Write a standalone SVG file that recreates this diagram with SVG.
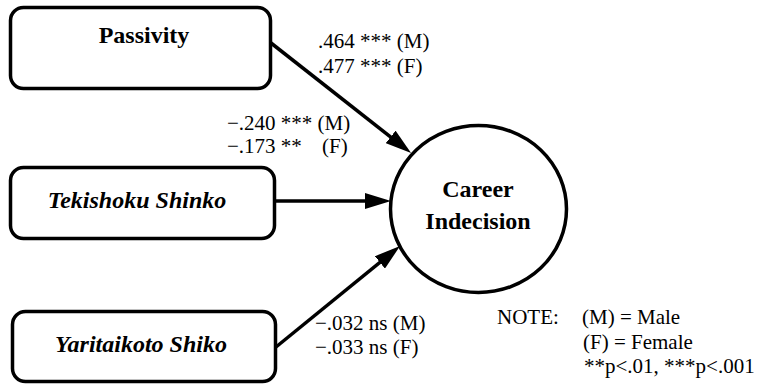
<svg xmlns="http://www.w3.org/2000/svg" width="759" height="385" viewBox="0 0 759 385">
<style>
.box{fill:#fff;stroke:#000;stroke-width:3.5}
.node{font-family:"Liberation Serif","Times New Roman",serif;font-weight:bold;font-size:24px;text-anchor:middle;fill:#000}
.it{font-style:italic}
.lbl{font-family:"Liberation Serif","Times New Roman",serif;font-size:21px;fill:#000}
.edge{stroke:#000;stroke-width:3.5;fill:none;marker-end:url(#ah)}
</style>
<defs>
<marker id="ah" viewBox="0 0 26 16" refX="16" refY="8" markerWidth="26" markerHeight="16" markerUnits="userSpaceOnUse" orient="auto">
<path d="M0,0 L26,8 L0,16 z" fill="#000"/>
</marker>
</defs>
<rect width="759" height="385" fill="#fff"/>
<g id="connectors">
<line class="edge" x1="271" y1="43" x2="403.2" y2="146.8"/>
<line class="edge" x1="275" y1="201" x2="381" y2="201"/>
<line class="edge" x1="276" y1="347" x2="392.3" y2="252.3"/>
</g>
<g id="passivity">
<rect class="box" x="10.5" y="7.5" width="260" height="81" rx="13"/>
<text class="node" x="144" y="43" font-size="25">Passivity</text>
</g>
<g id="tekishoku">
<rect class="box" x="10.5" y="167.5" width="264" height="71" rx="13"/>
<text class="node it" x="137" y="208">Tekishoku Shinko</text>
</g>
<g id="yaritaikoto">
<rect class="box" x="12.5" y="311.5" width="263" height="70" rx="13"/>
<text class="node it" x="141" y="352">Yaritaikoto Shiko</text>
</g>
<g id="career">
<ellipse class="box" cx="478.5" cy="209" rx="88" ry="83.5"/>
<text class="node" x="478" y="197">Career</text>
<text class="node" x="478" y="229">Indecision</text>
</g>
<g id="labels">
<text class="lbl" x="318" y="48">.464 *** (M)</text>
<text class="lbl" x="318" y="73">.477 *** (F)</text>
<text class="lbl" x="227" y="130">−.240 *** (M)</text>
<text class="lbl" x="227" y="153">−.173 **<tspan x="322">(F)</tspan></text>
<text class="lbl" x="315" y="330">−.032 ns (M)</text>
<text class="lbl" x="315" y="354">−.033 ns (F)</text>
<text class="lbl" x="497" y="324">NOTE:</text>
<text class="lbl" x="582" y="324">(M) = Male</text>
<text class="lbl" x="583" y="349">(F) = Female</text>
<text class="lbl" x="584" y="373">**p&lt;.01, ***p&lt;.001</text>
</g>
</svg>
